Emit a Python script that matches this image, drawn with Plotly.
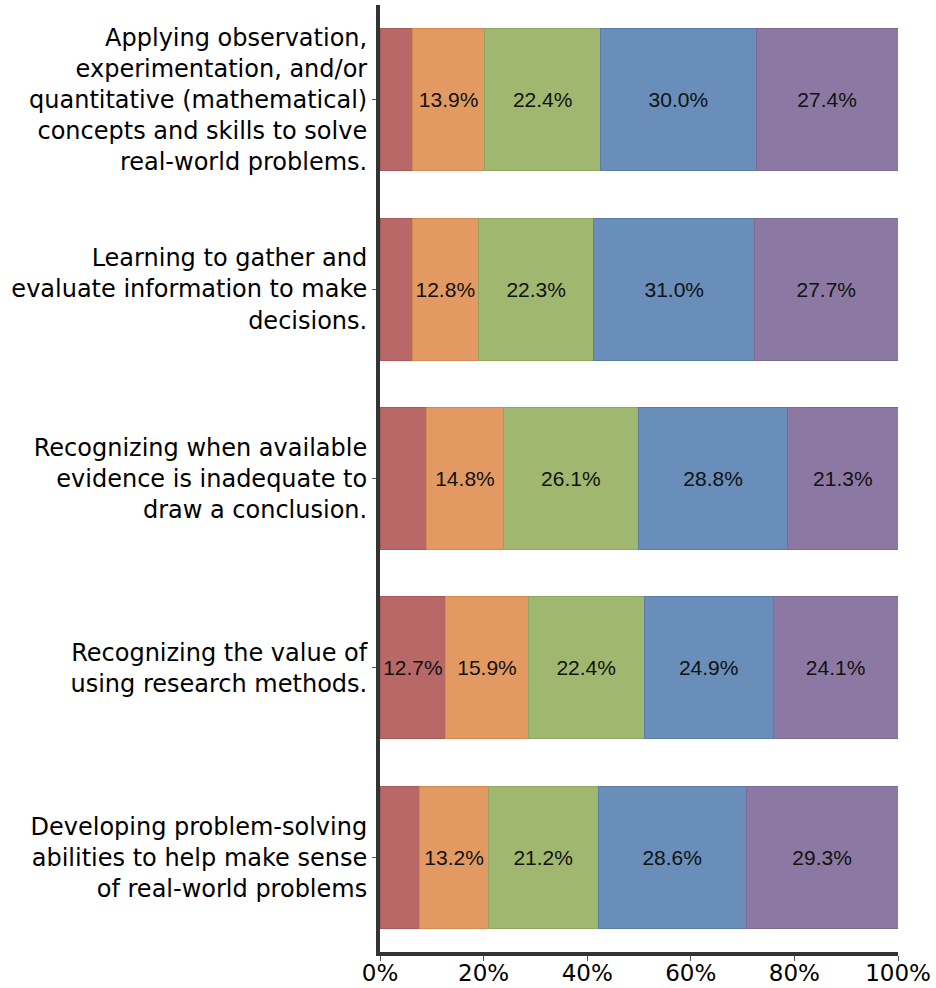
import plotly.graph_objects as go

categories = [
    "Applying observation,<br>experimentation, and/or<br>quantitative (mathematical)<br>concepts and skills to solve<br>real-world problems.",
    "Learning to gather and<br>evaluate information to make<br>decisions.",
    "Recognizing when available<br>evidence is inadequate to<br>draw a conclusion.",
    "Recognizing the value of<br>using research methods.",
    "Developing problem-solving<br>abilities to help make sense<br>of real-world problems",
]

series_names = ["Level 1", "Level 2", "Level 3", "Level 4", "Level 5"]
level1 = [6.3, 6.2, 9.0, 12.7, 7.7]
level2 = [13.9, 12.8, 14.8, 15.9, 13.2]
level3 = [22.4, 22.3, 26.1, 22.4, 21.2]
level4 = [30.0, 31.0, 28.8, 24.9, 28.6]
level5 = [27.4, 27.7, 21.3, 24.1, 29.3]
# which segments carry a visible label in the original
level1_labelled = [False, False, False, True, False]

x_tickvals = [0, 20, 40, 60, 80, 100]
x_ticktext = ["0%", "20%", "40%", "60%", "80%", "100%"]

colors = ["#B96868", "#E39A62", "#A0B76F", "#688EB9", "#8C79A3"]
edge_colors = ["#A85A5A", "#D58A52", "#8FA660", "#5A7EA8", "#7C6A94"]

all_series = [level1, level2, level3, level4, level5]

fig = go.Figure()
for i, vals in enumerate(all_series):
    if i == 0:
        texts = [f"{v:.1f}%" if show else "" for v, show in zip(vals, level1_labelled)]
    else:
        texts = [f"{v:.1f}%" for v in vals]
    fig.add_trace(go.Bar(
        y=categories,
        x=vals,
        name=series_names[i],
        orientation="h",
        marker=dict(color=colors[i], line=dict(color=edge_colors[i], width=1)),
        text=texts,
        textposition="inside",
        insidetextanchor="middle",
        constraintext="none",
        textfont=dict(family="Liberation Sans, Arial, sans-serif", size=21, color="#111111"),
        showlegend=False,
    ))

fig.update_layout(
    barmode="stack",
    bargap=0.25,
    width=936,
    height=988,
    margin=dict(l=380, r=38, t=5, b=36, autoexpand=False),
    plot_bgcolor="white",
    paper_bgcolor="white",
    font=dict(family="DejaVu Sans, sans-serif", color="black"),
)

fig.update_xaxes(
    range=[0, 100],
    tickvals=x_tickvals,
    ticktext=x_ticktext,
    tickfont=dict(family="DejaVu Sans, sans-serif", size=23, color="black"),
    showgrid=False,
    zeroline=False,
    showline=True,
    linecolor="#333333",
    linewidth=4,
    ticks="outside",
    ticklen=5,
    tickwidth=1,
    tickcolor="#555555",
    ticklabelstandoff=-8,
    automargin=False,
)
fig.update_yaxes(
    type="category",
    range=[4.5, -0.5],
    tickfont=dict(family="DejaVu Sans, sans-serif", size=24, color="black"),
    showgrid=False,
    zeroline=False,
    showline=True,
    linecolor="#333333",
    linewidth=4,
    ticks="outside",
    ticklen=4,
    tickwidth=1,
    tickcolor="#555555",
    automargin=False,
)

fig.write_html(
    "out.html",
    config={"displayModeBar": False},
    post_script="document.body.style.margin='0';document.body.style.overflow='hidden';",
)
